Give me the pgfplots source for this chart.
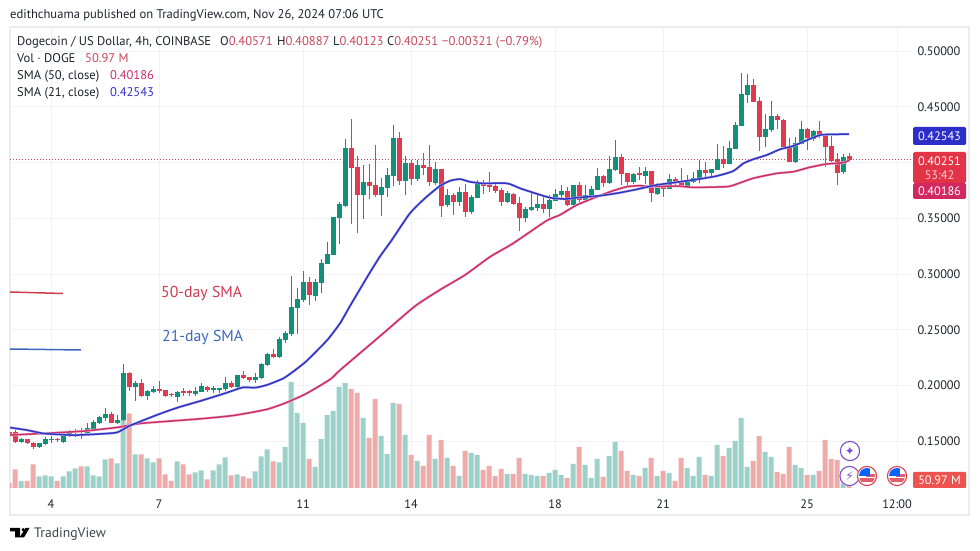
\documentclass[border=0pt]{standalone}
\usepackage{pgfplots}
\usepackage{pgfplotstable}
\usepackage{fontspec}
\pgfplotsset{compat=1.18}
\setmainfont{PT Sans}
\newfontfamily\symfont{DejaVu Sans}
\definecolor{upc}{HTML}{12907A}
\definecolor{dnc}{HTML}{DF3A4E}
\definecolor{vup}{HTML}{9BD1C9}
\definecolor{vdn}{HTML}{EFAAAA}
\definecolor{gridc}{HTML}{F0F2F6}
\definecolor{smab}{HTML}{3232C4}
\definecolor{smap}{HTML}{CC2E6A}
\definecolor{txt}{HTML}{1E222D}
\definecolor{valr}{HTML}{C8475A}
\definecolor{purp}{HTML}{7B4FD0}
\definecolor{flagr}{HTML}{D9414F}
\definecolor{annb}{HTML}{3E66C0}
\definecolor{annr}{HTML}{CF3B50}
\pgfplotstableread{
i o h l c
2 .1495 .1531 .1486 .1522
5 .1444 .1486 .1435 .1480
6 .1477 .1534 .1471 .1516
7 .1507 .1546 .1486 .1516
9 .1495 .1564 .1489 .1555
10 .1555 .1600 .1540 .1585
11 .1576 .1606 .1540 .1594
13 .1576 .1660 .1570 .1618
14 .1606 .1689 .1600 .1674
15 .1662 .1725 .1653 .1713
16 .1707 .1794 .1683 .1743
18 .1665 .1734 .1660 .1695
19 .1689 .2192 .1683 .2114
21 .1988 .2042 .1863 .2024
23 .1908 .1959 .1869 .1950
24 .1938 .1994 .1935 .1968
28 .1893 .1953 .1854 .1941
31 .1920 .1988 .1905 .1953
32 .1944 .2018 .1944 .1994
34 .1962 .1994 .1935 .1968
35 .1962 .1982 .1935 .1968
36 .1965 .2072 .1953 .2018
38 .1988 .2093 .1982 .2090
41 .2048 .2108 .2018 .2072
42 .2069 .2198 .2063 .2192
43 .2183 .2293 .2174 .2281
45 .2258 .2437 .2255 .2417
46 .2408 .2491 .2378 .2467
47 .2461 .2982 .2446 .2700
48 .2698 .2871 .2461 .2775
49 .2766 .3026 .2751 .2928
51 .2802 .2952 .2760 .2928
52 .2922 .3131 .2832 .3101
53 .3089 .3290 .3089 .3179
54 .3170 .3514 .3170 .3508
55 .3505 .3648 .3268 .3627
56 .3609 .4207 .3597 .4126
59 .3708 .3977 .3493 .3821
62 .3708 .3857 .3519 .3777
63 .3774 .3947 .3693 .3887
64 .3881 .4336 .3789 .4216
66 .3836 .4058 .3708 .3992
68 .3851 .4022 .3836 .3977
71 .3818 .4007 .3798 .3938
73 .3615 .3759 .3603 .3708
75 .3645 .3777 .3609 .3735
77 .3555 .3708 .3537 .3687
78 .3681 .3842 .3681 .3813
83 .3645 .3747 .3639 .3729
86 .3502 .3597 .3469 .3585
87 .3573 .3729 .3567 .3603
88 .3591 .3708 .3567 .3627
90 .3582 .3708 .3514 .3663
91 .3654 .3762 .3654 .3714
92 .3705 .3798 .3669 .3747
94 .3618 .3798 .3588 .3798
96 .3663 .3798 .3663 .3708
97 .3699 .3789 .3669 .3762
98 .3753 .3947 .3753 .3878
100 .3819 .4058 .3813 .3938
101 .3932 .4201 .3926 .4046
104 .3828 .3902 .3807 .3896
106 .3878 .3962 .3807 .3923
108 .3717 .3813 .3708 .3789
110 .3759 .3896 .3759 .3852
113 .3789 .3887 .3777 .3837
114 .3828 .3917 .3813 .3864
115 .3864 .4022 .3813 .3932
117 .3902 .3941 .3878 .3941
118 .3932 .4166 .3932 .4031
120 .3986 .4195 .3986 .4127
121 .4121 .4366 .4121 .4336
122 .4330 .4799 .4330 .4614
123 .4608 .4793 .4536 .4695
126 .4225 .4435 .4136 .4300
127 .4291 .4554 .4276 .4417
131 .4004 .4225 .3998 .4171
132 .4165 .4372 .4165 .4300
134 .4207 .4291 .4195 .4285
139 .3917 .4076 .3896 .4046
}\candleup
\pgfplotstableread{
i o h l c
0 .1580 .1600 .1545 .1560
1 .1585 .1600 .1480 .1495
3 .1516 .1519 .1477 .1480
4 .1486 .1495 .1426 .1444
8 .1516 .1531 .1495 .1510
12 .1594 .1615 .1516 .1582
17 .1743 .1764 .1660 .1665
20 .2114 .2123 .1952 .1988
22 .2024 .2054 .1893 .1905
25 .1959 .2039 .1929 .1953
26 .1959 .1959 .1893 .1905
27 .1920 .1935 .1899 .1911
29 .1941 .1974 .1905 .1935
30 .1941 .1959 .1905 .1935
33 .1988 .1994 .1944 .1959
37 .2018 .2042 .1979 .1988
39 .2090 .2129 .2060 .2066
40 .2072 .2078 .2033 .2048
44 .2281 .2323 .2251 .2254
50 .2928 .2970 .2721 .2811
57 .4126 .4390 .3448 .3953
58 .3956 .4058 .3370 .3708
60 .3821 .3986 .3672 .3789
61 .3795 .4156 .3687 .3708
65 .4216 .4270 .3798 .3836
67 .3992 .4022 .3798 .3851
69 .3977 .4082 .3887 .3953
70 .3956 .4156 .3789 .3824
72 .3938 .3938 .3507 .3609
74 .3708 .3723 .3528 .3645
76 .3735 .3807 .3507 .3555
79 .3818 .3842 .3717 .3789
80 .3795 .3917 .3738 .3780
81 .3789 .3818 .3723 .3741
82 .3753 .3768 .3609 .3645
84 .3717 .3729 .3618 .3627
85 .3639 .3693 .3388 .3502
89 .3627 .3693 .3549 .3582
93 .3747 .3777 .3609 .3618
95 .3798 .3828 .3633 .3663
99 .3878 .3887 .3777 .3819
102 .4046 .4076 .3798 .3896
103 .3908 .3908 .3768 .3828
105 .3896 .3956 .3843 .3890
107 .3926 .3926 .3648 .3723
109 .3798 .3813 .3693 .3759
111 .3855 .3872 .3783 .3819
112 .3828 .3947 .3777 .3783
116 .3932 .4007 .3866 .3902
119 .4034 .4148 .3947 .3986
124 .4695 .4746 .4545 .4545
125 .4554 .4584 .4106 .4225
128 .4420 .4435 .4297 .4381
129 .4381 .4387 .4136 .4136
130 .4142 .4216 .4004 .4004
133 .4300 .4306 .4112 .4216
135 .4285 .4372 .4216 .4237
136 .4246 .4255 .3956 .4136
137 .4148 .4237 .4007 .4016
138 .4028 .4082 .3798 .3908
140 .40571 .40887 .40123 .40251
}\candledown
\pgfplotstableread{
k v
2 42
5 70
6 76
7 70
9 70
10 100
11 118
13 130
14 76
15 70
16 172
18 148
19 410
21 202
23 178
24 154
28 160
31 94
32 106
34 106
35 142
36 184
38 82
41 100
42 190
43 232
45 154
46 246
47 636
48 450
49 390
51 126
52 294
53 438
54 462
55 606
56 630
59 420
62 312
63 204
64 510
66 318
68 162
71 174
73 180
75 72
77 210
78 198
83 84
86 84
87 78
88 72
90 90
91 108
92 78
94 144
96 138
97 60
98 174
100 192
101 276
104 78
106 120
108 72
110 90
113 120
114 72
115 186
117 72
118 258
120 240
121 282
122 420
123 126
126 216
127 186
131 138
132 120
134 78
139 28
}\volup
\pgfplotstableread{
k v
0 30
1 112
3 42
4 142
8 42
12 130
17 178
20 448
22 202
25 178
26 82
27 42
29 142
30 82
33 52
37 76
39 70
40 58
44 160
50 174
57 594
58 570
60 300
61 534
65 504
67 198
69 132
70 318
72 288
74 132
76 222
79 108
80 132
81 72
82 114
84 84
85 180
89 72
93 60
95 246
99 66
102 222
103 102
105 72
107 180
109 102
111 42
112 180
116 78
119 192
124 162
125 312
128 96
129 84
130 246
133 78
135 102
136 288
137 174
138 168
140 51
}\voldown
\pgfplotstableread{
k p
0 .1555
5.7 .1570
12.4 .1591
18 .1624
21.8 .1659
25.2 .1674
31.8 .1701
37.4 .1731
42.9 .1785
46.3 .1848
49.6 .1929
53.5 .2054
55.2 .2139
60.2 .2368
62.7 .2483
67.7 .2713
71.8 .2857
76 .2991
80.2 .3155
84 .3274
89.6 .3478
91.8 .3529
94.6 .3618
98 .3693
100.7 .3747
103 .3783
105.2 .3792
106.8 .3783
111.3 .3789
114 .3777
119.6 .3783
121.3 .3807
124 .3858
127.9 .3902
130.7 .3917
133.4 .3956
136.2 .3986
139 .3998
140 .40186
}\smafifty
\pgfplotstableread{
k p
0 .1624
3 .1600
5.7 .1570
8 .1562
11 .1555
15 .1565
18 .1579
20 .1636
22 .1680
25 .1743
28 .1800
32 .1863
36 .1930
39 .1983
41 .1980
43 .2005
45.7 .2063
47.5 .2130
49.6 .2220
53 .2405
55.2 .2560
56.8 .2710
59.7 .2973
61.8 .3155
63.8 .3305
66.8 .3543
69.3 .3678
71.8 .3789
73.5 .3836
75.2 .3851
76.8 .3827
79 .3813
83 .3813
85.2 .3768
87.4 .3729
90.2 .3684
92.7 .3672
94.6 .3684
98.5 .3702
101.8 .3729
104.6 .3759
107.9 .3798
110.7 .3819
114 .3843
117.9 .3878
120.7 .3923
122.4 .3992
124 .4028
126.3 .4067
128.5 .4118
130.7 .4148
133 .4201
135.2 .4246
136.9 .4252
140 .42543
}\smatwentyone
\newcommand{\tfont}{\fontsize{12.3}{14}\selectfont}
\newcommand{\lfont}{\fontsize{12.6}{14}\selectfont}
\newcommand{\flagicon}[2]{%
 \begin{scope}[shift={(#1pt,#2pt)}]
 \fill[white] (0,0) circle (10.5pt);
 \begin{scope}\clip (0,0) circle (8pt);
 \fill[white] (-9pt,-9pt) rectangle (9pt,9pt);
 \fill[flagr!85] (-9pt,-6pt) rectangle (9pt,-2pt);
 \fill[flagr!85] (-1pt,-1pt) rectangle (9pt,1.5pt);
 \fill[blue!60!cyan] (-9pt,0pt) rectangle (3pt,9pt);
 \end{scope}
 \draw[flagr,line width=1.1pt] (0,0) circle (9.6pt);
 \end{scope}}
\begin{document}
\begin{tikzpicture}[x=1pt,y=1pt]
\useasboundingbox (0,0) rectangle (980,551);
\fill[white] (0,0) rectangle (980,551);
\draw[gridc!80!black!12!gridc,line width=1.6pt] (10,524) rectangle (969,36);
% grid and scales
\begin{axis}[
 at={(10pt,61pt)},anchor=south west,scale only axis,width=902pt,height=463pt,
 xmin=0.1667,xmax=150.5,ymin=0.10628,ymax=0.52152,
 axis line style={draw=none},major tick length=0pt,
 grid=major,major grid style={gridc,line width=0.8pt},
 xtick={7,25,49,67,91,109,133,148},xticklabels={4,7,11,14,18,21,25,12:00},
 ytick={.15,.2,.25,.3,.35,.4,.45,.5},
 yticklabel pos=right,
 /pgf/number format/assume math mode=true,
 /pgf/number format/fixed,/pgf/number format/fixed zerofill,/pgf/number format/precision=5,
 ticklabel style={font=\tfont,text=txt},
 yticklabel style={xshift=2pt},
 xticklabel style={yshift=-6pt},
]
\addplot[valr,dash pattern=on 1pt off 2pt,line width=0.8pt,forget plot] coordinates {(0.1667,.40251) (150.5,.40251)};
\end{axis}
% volume
\begin{axis}[
 at={(10pt,61pt)},anchor=south west,scale only axis,width=902pt,height=463pt,
 xmin=0.1667,xmax=150.5,ymin=-12,ymax=2766,hide axis,
 ybar,bar width=5pt,bar shift=0pt,
]
\addplot[draw=none,fill=vup] table[x=k,y=v] {\volup};
\addplot[draw=none,fill=vdn] table[x=k,y=v] {\voldown};
\end{axis}
% price
\begin{axis}[
 at={(10pt,61pt)},anchor=south west,scale only axis,width=902pt,height=463pt,
 xmin=0.1667,xmax=150.5,ymin=0.10628,ymax=0.52152,hide axis,
]
\addplot[draw=none,mark=none,forget plot,error bars/.cd,y dir=both,y explicit,error mark=none,
 error bar style={draw=upc,line width=1pt}]
 table[x=i,y=o,y error plus expr=\thisrow{h}-\thisrow{o},y error minus expr=\thisrow{o}-\thisrow{l}] {\candleup};
\addplot[draw=none,mark=none,forget plot,error bars/.cd,y dir=both,y explicit,error mark=none,
 error bar style={draw=dnc,line width=1pt}]
 table[x=i,y=o,y error plus expr=\thisrow{h}-\thisrow{o},y error minus expr=\thisrow{o}-\thisrow{l}] {\candledown};
\addplot[draw=none,mark=none,forget plot,error bars/.cd,y dir=plus,y explicit,error mark=none,
 error bar style={draw=upc,line width=5pt}]
 table[x=i,y=o,y error plus expr={max(\thisrow{c}-\thisrow{o},0.0012)}] {\candleup};
\addplot[draw=none,mark=none,forget plot,error bars/.cd,y dir=plus,y explicit,error mark=none,
 error bar style={draw=dnc,line width=5pt}]
 table[x=i,y=c,y error plus expr={max(\thisrow{o}-\thisrow{c},0.0012)}] {\candledown};
% SMA 50
\addplot[smap!30,line width=2.6pt,smooth,tension=0.35,forget plot] table[x=k,y=p] {\smafifty};
\addplot[smap,line width=1.5pt,smooth,tension=0.35,forget plot] table[x=k,y=p] {\smafifty};
% SMA 21
\addplot[smab!35,line width=2.5pt,smooth,tension=0.35,forget plot] table[x=k,y=p] {\smatwentyone};
\addplot[smab,line width=1.5pt,smooth,tension=0.35,forget plot] table[x=k,y=p] {\smatwentyone};
\end{axis}
% header and legend text
\tikzset{lbl/.style={anchor=base west,inner sep=0pt,font=\lfont,text=txt}}
\node[lbl] at (10,532) {edithchuama published on TradingView.com, Nov 26, 2024 07:06 UTC};
\node[lbl] at (17,505) {Dogecoin / US Dollar, 4h, COINBASE};
\node[lbl] at (220,505) {O\textcolor{valr}{0.40571}};
\node[lbl] at (277,505) {H\textcolor{valr}{0.40887}};
\node[lbl] at (333,505) {L\textcolor{valr}{0.40123}};
\node[lbl] at (387,505) {C\textcolor{valr}{0.40251}};
\node[lbl,text=valr] at (442,505) {−0.00321 (−0.79\%)};
\node[lbl] at (17,488) {Vol · DOGE};
\node[lbl,text=valr] at (85,488) {50.97 M};
\node[lbl] at (17,471) {SMA (50, close)};
\node[lbl,text=smap] at (110,471) {0.40186};
\node[lbl] at (17,454) {SMA (21, close)};
\node[lbl,text=smab] at (110,454) {0.42543};
% annotations
\draw[annr,line width=1.5pt] (10,259) -- (63,257.5);
\draw[annb,line width=1.5pt] (10,202) -- (81,201);
\node[anchor=west,inner sep=0pt,font=\fontsize{15.8}{17}\selectfont,text=annr] at (161,258) {50-day SMA};
\node[anchor=west,inner sep=0pt,font=\fontsize{15.8}{17}\selectfont,text=annb] at (162,213.5) {21-day SMA};
% price labels
\fill[smab!90!blue,rounded corners=1.5pt] (913,424) rectangle (966,406);
\node[font=\tfont,text=white] at (939.5,415) {0.42543};
\fill[dnc!90!red,rounded corners=1.5pt] (913,399) rectangle (966,368);
\node[font=\tfont,text=white] at (939.5,390) {0.40251};
\node[font=\tfont,text=white!75!dnc] at (939.5,376) {53:42};
\fill[smap!90!red,rounded corners=1.5pt] (913,368) rectangle (966,352);
\node[font=\tfont,text=white] at (939.5,360) {0.40186};
\definecolor{vlab}{HTML}{EF5350}
\fill[vlab,rounded corners=1pt] (913,79) rectangle (966,63);
\node[font=\tfont,text=white] at (939.5,71) {50.97 M};
% event icons
\fill[white] (850,100) circle (10.5pt);
\draw[purp,line width=1.1pt] (850,100) circle (9.6pt);
\node[font=\symfont\fontsize{12}{12}\selectfont,text=purp] at (850,100) {✦};
\fill[white] (849.5,75) circle (10.5pt);
\draw[purp,line width=1.1pt] (849.5,75) circle (9.6pt);
\node[font=\symfont\fontsize{12}{12}\selectfont,text=purp] at (849.5,75) {⚡};
\flagicon{867}{75}
\flagicon{897}{75}
% logo
\fill[black] (10,23) -- (20,23) -- (20,13.5) -- (15,13.5) -- (15,19.5) -- (10,19.5) -- cycle;
\fill[black] (23.2,21.3) circle (1.8pt);
\fill[black] (25.5,23) -- (29.5,23) -- (24,13.5) -- (19.5,13.5) -- cycle;
\node[lbl,font=\fontsize{13.7}{16}\selectfont,text=txt!85] at (34,13.5) {TradingView};
\end{tikzpicture}
\end{document}
